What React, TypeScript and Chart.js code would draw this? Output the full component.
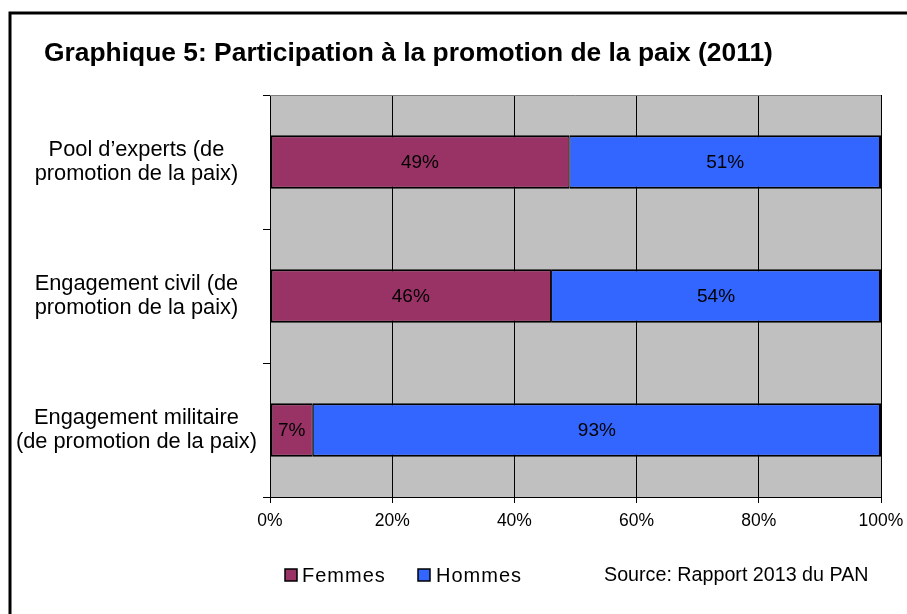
import React, { useEffect, useRef } from "react";
import { Chart, registerables } from "chart.js";
Chart.register(...registerables);

const titleText = "Graphique 5: Participation à la promotion de la paix (2011)";
const sourceText = "Source: Rapport 2013 du PAN";
const categories = [
  ["Pool d’experts (de", "promotion de la paix)"],
  ["Engagement civil (de", "promotion de la paix)"],
  ["Engagement militaire", "(de promotion de la paix)"],
];
const seriesNames = ["Femmes", "Hommes"];
const femmes = [49, 46, 7];
const hommes = [51, 54, 93];
const seriesColors = ["#993366", "#3366FF"];
const xTicks = [0, 20, 40, 60, 80, 100];

const FONT = "'Liberation Sans', Arial, sans-serif";

const decor = {
  id: "decor",
  beforeDraw(chart: any) {
    const { ctx, chartArea: a } = chart;
    ctx.save();
    ctx.fillStyle = "#ffffff";
    ctx.fillRect(0, 0, chart.width, chart.height);
    ctx.fillStyle = "#C0C0C0";
    ctx.fillRect(a.left, a.top, a.right - a.left, a.bottom - a.top);
    ctx.restore();
  },
  afterDatasetsDraw(chart: any) {
    const { ctx } = chart;
    ctx.save();
    ctx.fillStyle = "#000";
    ctx.font = `19px ${FONT}`;
    ctx.textAlign = "center";
    ctx.textBaseline = "middle";
    chart.data.datasets.forEach((ds: any, di: number) => {
      const meta = chart.getDatasetMeta(di);
      meta.data.forEach((el: any, i: number) => {
        const cx = (el.x + el.base) / 2;
        ctx.fillText(ds.data[i] + "%", cx, el.y + 1);
      });
    });
    ctx.restore();
  },
  afterDraw(chart: any) {
    const { ctx, chartArea: a } = chart;
    ctx.save();
    ctx.strokeStyle = "#808080";
    ctx.lineWidth = 1;
    ctx.beginPath();
    ctx.moveTo(a.left, a.top + 0.5);
    ctx.lineTo(a.right, a.top + 0.5);
    ctx.stroke();
    ctx.strokeStyle = "#000";
    ctx.lineWidth = 3;
    ctx.strokeRect(10, 13, 1200, 1200);
    ctx.fillStyle = "#000";
    ctx.font = `bold 26.4px ${FONT}`;
    ctx.textAlign = "left";
    ctx.textBaseline = "alphabetic";
    ctx.fillText(titleText, 44, 61);
    const items = [
      { x: 285, tx: 302 },
      { x: 418, tx: 436 },
    ];
    ctx.font = `20px ${FONT}`;
    ctx.textBaseline = "middle";
    (ctx as any).letterSpacing = "1px";
    chart.data.datasets.forEach((ds: any, i: number) => {
      const it = items[i];
      ctx.fillStyle = ds.backgroundColor;
      ctx.fillRect(it.x, 569, 12, 12);
      ctx.strokeStyle = "#000";
      ctx.lineWidth = 1.5;
      ctx.strokeRect(it.x, 569, 12, 12);
      ctx.fillStyle = "#000";
      ctx.fillText(ds.label, it.tx, 576);
    });
    (ctx as any).letterSpacing = "0px";
    ctx.font = `19.7px ${FONT}`;
    ctx.fillText(sourceText, 604, 576);
    ctx.restore();
  },
};

export default function App() {
  const ref = useRef<HTMLCanvasElement>(null);
  useEffect(() => {
    const chart = new Chart(ref.current as HTMLCanvasElement, {
      type: "bar",
      data: {
        labels: categories as any,
        datasets: [
          {
            label: seriesNames[0],
            data: femmes,
            backgroundColor: seriesColors[0],
            borderColor: "#000",
            borderWidth: { top: 2, bottom: 2, left: 2, right: 1 } as any,
            borderSkipped: false,
          },
          {
            label: seriesNames[1],
            data: hommes,
            backgroundColor: seriesColors[1],
            borderColor: "#000",
            borderWidth: { top: 2, bottom: 2, left: 1, right: 2 } as any,
            borderSkipped: false,
          },
        ],
      },
      options: {
        responsive: false,
        animation: false,
        indexAxis: "y",
        datasets: { bar: { categoryPercentage: 1, barPercentage: 0.4 } },
        layout: { padding: { top: 95, right: 26, bottom: 77, left: 0 } },
        plugins: {
          legend: { display: false },
          title: { display: false },
          tooltip: { enabled: false },
        },
        scales: {
          x: {
            stacked: true,
            min: 0,
            max: 100,
            afterBuildTicks: (s: any) => {
              s.ticks = xTicks.map((v) => ({ value: v }));
            },
            ticks: {
              callback: (v: any) => v + "%",
              color: "#000",
              font: { family: FONT, size: 17.5 },
              padding: 8,
              maxRotation: 0,
              autoSkip: false,
            },
            grid: { color: "#000", tickLength: 6, lineWidth: 1 },
            border: { color: "#000", width: 1 },
            afterFit: (s: any) => {
              s.height = 40;
              s.paddingLeft = 0;
              s.paddingRight = 0;
            },
          },
          y: {
            stacked: true,
            ticks: {
              crossAlign: "center",
              color: "#000",
              font: { family: FONT, size: 21.8, lineHeight: 1.08 },
              padding: 6,
            },
            grid: { drawOnChartArea: false, tickLength: 7, color: "#000" },
            border: { color: "#000", width: 1 },
            afterFit: (s: any) => {
              s.width = 270;
            },
          },
        },
      },
      plugins: [decor],
    } as any);
    return () => chart.destroy();
  }, []);
  return (
    <div style={{ position: "absolute", left: 0, top: 0, width: 907, height: 614 }}>
      <canvas ref={ref} width={907} height={614} />
    </div>
  );
}
